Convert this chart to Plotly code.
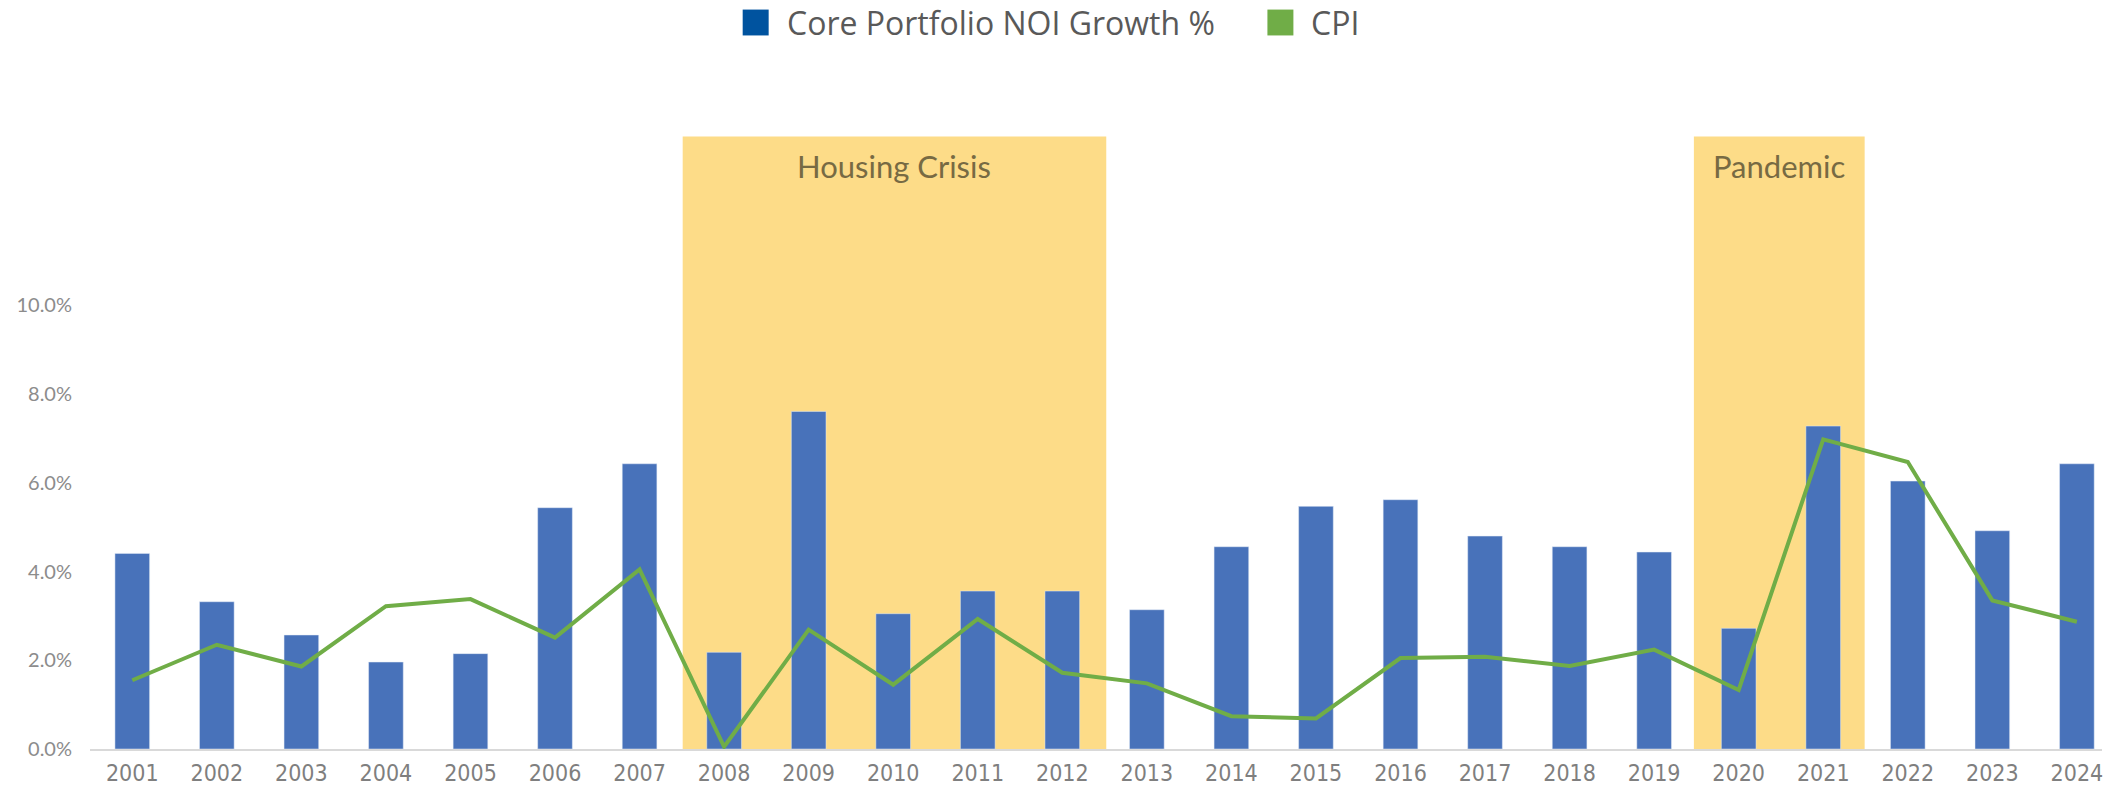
import plotly.graph_objects as go

years = [str(y) for y in range(2001, 2025)]
noi_growth = [4.41, 3.32, 2.57, 1.96, 2.15, 5.44, 6.43, 2.18, 7.61, 3.05, 3.56, 3.56,
              3.14, 4.56, 5.47, 5.62, 4.80, 4.56, 4.44, 2.72, 7.28, 6.04, 4.92, 6.43]
cpi = [1.55, 2.35, 1.86, 3.22, 3.38, 2.51, 4.05, 0.05, 2.69, 1.45, 2.93, 1.72,
       1.48, 0.74, 0.69, 2.05, 2.08, 1.87, 2.24, 1.33, 6.98, 6.47, 3.35, 2.87]
y_ticks = [0, 2, 4, 6, 8, 10]
period_labels = ["Housing Crisis", "Pandemic"]
period_start = ["2008", "2020"]
period_end = ["2012", "2021"]

# styling / layout constants
PERIOD_PAD = [(-0.49, 0.52), (-0.53, 0.49)]
W, H = 2103, 786
ML, MR, MT, MB = 90, 0, 128, 34
PW, PH = W - ML - MR, H - MT - MB
CAT_PX = 84.59

BAR_COLOR = "#4872BA"
LINE_COLOR = "#70AD47"
RECT_COLOR = "#FDDC88"


def px_x(x):
    return (x - ML) / PW


def px_y(y):
    return (H - MB - y) / PH


fig = go.Figure()
fig.add_trace(go.Bar(x=years, y=noi_growth, marker_color=BAR_COLOR, width=0.41,
                     name="Core Portfolio NOI Growth %", showlegend=False))
fig.add_trace(go.Scatter(x=years, y=cpi, mode="lines", name="CPI",
                         line=dict(color=LINE_COLOR, width=4), showlegend=False))

shapes = []
annotations = []
for label, start, end, (p0, p1) in zip(period_labels, period_start, period_end, PERIOD_PAD):
    i0, i1 = years.index(start), years.index(end)
    x0, x1 = i0 + p0, i1 + p1
    shapes.append(dict(type="rect", xref="x", yref="y", x0=x0, x1=x1,
                       y0=0, y1=13.81, fillcolor=RECT_COLOR, line_width=0, layer="below"))
    annotations.append(dict(xref="x", yref="paper", x=(x0 + x1) / 2, y=px_y(166),
                            yanchor="middle", text=label, showarrow=False,
                            font=dict(family="Lato, Noto Sans", size=31, color="#776A43")))

# manual legend
legend_labels = ["Core Portfolio NOI Growth %", "CPI"]
legend_colors = ["#00539F", LINE_COLOR]
legend_px = [743, 1268]
for text, color, x0 in zip(legend_labels, legend_colors, legend_px):
    shapes.append(dict(type="rect", xref="paper", yref="paper",
                       x0=px_x(x0), x1=px_x(x0 + 26), y0=px_y(35), y1=px_y(9),
                       fillcolor=color, line_width=0))
    annotations.append(dict(xref="paper", yref="paper", x=px_x(x0 + 42), y=px_y(22),
                            xanchor="left", yanchor="middle", text=text, showarrow=False,
                            font=dict(family="Open Sans, Noto Sans", size=32, color="#595959")))

fig.update_layout(
    width=W, height=H,
    margin=dict(l=ML, r=MR, t=MT, b=MB),
    paper_bgcolor="white", plot_bgcolor="white",
    shapes=shapes, annotations=annotations,
    showlegend=False,
)
fig.update_xaxes(type="category", range=[-0.5, -0.5 + PW / CAT_PX],
                 showline=True, linecolor="#D9D9D9", linewidth=2,
                 showgrid=False, ticks="", ticklabelstandoff=2,
                 tickfont=dict(family="Liberation Sans Narrow, DejaVu Sans Condensed, Roboto",
                               size=23, color="#7F7F7F"))
fig.update_yaxes(range=[0, 14], tickvals=y_ticks, ticktext=[f"{v:.1f}%" for v in y_ticks],
                 showgrid=False, zeroline=False, showline=False, ticks="",
                 ticklabelstandoff=17,
                 tickfont=dict(family="Lato, Noto Sans", size=20, color="#8C8C8C"))

fig.write_html("out.html", config={"displayModeBar": False},
               post_script="document.body.style.margin='0px';document.body.style.overflow='hidden';")
